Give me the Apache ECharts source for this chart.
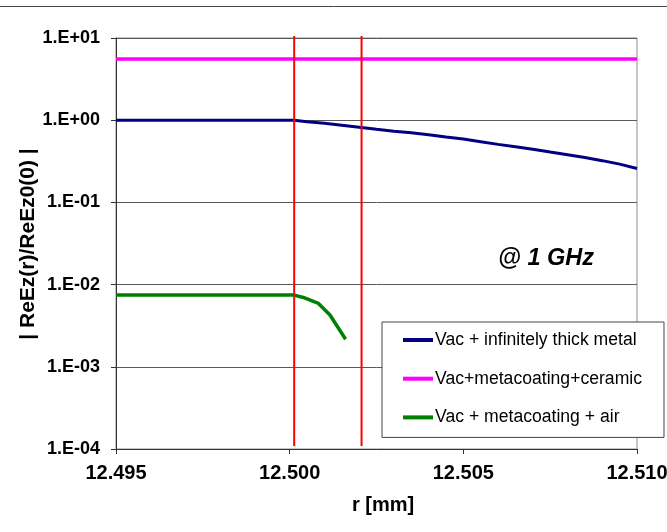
<!DOCTYPE html>
<html>
<head>
<meta charset="utf-8">
<script src="https://cdn.jsdelivr.net/npm/echarts@6/dist/echarts.min.js"></script>
<style>
html,body{margin:0;padding:0;background:#fff;}
#c{width:667px;height:532px;}
</style>
</head>
<body>
<div id="c"></div>
<script>
// ---- data ----
var seriesNames = ['Vac + infinitely thick metal', 'Vac+metacoating+ceramic', 'Vac + metacoating + air'];
var metalR = [12.495, 12.496, 12.497, 12.498, 12.499, 12.50013, 12.5005, 12.501, 12.5015, 12.502, 12.5025, 12.503, 12.5035, 12.504, 12.5045, 12.505, 12.5055, 12.506, 12.5065, 12.507, 12.5075, 12.508, 12.5085, 12.509, 12.5095, 12.510];
var metalV = [1.0, 1.0, 1.0, 1.0, 1.0, 1.0, 0.959, 0.92, 0.87, 0.822, 0.777, 0.735, 0.705, 0.666, 0.625, 0.591, 0.548, 0.508, 0.476, 0.444, 0.41, 0.381, 0.352, 0.322, 0.292, 0.259];
var ceramicR = [12.495, 12.510];
var ceramicV = [5.56, 5.56];
var airR = [12.495, 12.497, 12.499, 12.50013, 12.50039, 12.50083, 12.50116, 12.50161];
var airV = [0.00745, 0.00745, 0.00745, 0.00745, 0.00698, 0.0059, 0.00426, 0.00216];
var boundaryR = [12.50013, 12.50207];
var boundarySpan = [0.0001087, 10.57];
var yTickLabels = ['1.E-04', '1.E-03', '1.E-02', '1.E-01', '1.E+00', '1.E+01'];
var xTickLabels = ['12.495', '12.500', '12.505', '12.510'];

function pairs(xs, ys) { return xs.map(function (x, i) { return [x, ys[i]]; }); }

var FONT = '"Liberation Sans", Arial, sans-serif';
var chart = echarts.init(document.getElementById('c'), null, { renderer: 'canvas' });

var series = [
  { name: seriesNames[0], type: 'line', data: pairs(metalR, metalV), showSymbol: false, symbol: 'none',
    lineStyle: { color: '#000080', width: 3 }, itemStyle: { color: '#000080' }, z: 3 },
  { name: seriesNames[1], type: 'line', data: pairs(ceramicR, ceramicV), showSymbol: false, symbol: 'none',
    lineStyle: { color: '#FF00FF', width: 3.5 }, itemStyle: { color: '#FF00FF' }, z: 3 },
  { name: seriesNames[2], type: 'line', data: pairs(airR, airV), showSymbol: false, symbol: 'none',
    lineStyle: { color: '#008000', width: 3.5 }, itemStyle: { color: '#008000' }, z: 3 }
];
boundaryR.forEach(function (r, i) {
  series.push({ name: 'boundary' + i, type: 'line', data: [[r, boundarySpan[0]], [r, boundarySpan[1]]],
    showSymbol: false, symbol: 'none', clip: false, silent: true,
    lineStyle: { color: '#FF0000', width: 2 }, itemStyle: { color: '#FF0000' }, z: 4 });
});

chart.setOption({
  animation: false,
  backgroundColor: '#ffffff',
  grid: { left: 116, top: 38, right: 30, bottom: 83, containLabel: false, outerBoundsMode: 'none',
    show: true, borderColor: '#8c8c8c', borderWidth: 1, backgroundColor: 'transparent' },
  xAxis: {
    type: 'value', min: 12.495, max: 12.510, interval: 0.005,
    axisLine: { show: true, lineStyle: { color: '#333', width: 1 } },
    axisTick: { show: true, inside: false, length: 5, lineStyle: { color: '#333' } },
    splitLine: { show: false },
    axisLabel: { margin: 14, color: '#000', fontFamily: FONT, fontWeight: 'bold', fontSize: 20,
      formatter: function (v) { var i = Math.round((v - 12.495) / 0.005); return xTickLabels[i] || v.toFixed(3); } }
  },
  yAxis: {
    type: 'log', logBase: 10, min: 0.0001, max: 10,
    axisLine: { show: true, lineStyle: { color: '#333', width: 1 } },
    axisTick: { show: true, inside: false, length: 5, lineStyle: { color: '#333' } },
    splitLine: { show: true, lineStyle: { color: '#5a5a5a', width: 1 } },
    minorTick: { show: false },
    axisLabel: { margin: 16, color: '#000', fontFamily: FONT, fontWeight: 'bold', fontSize: 18,
      formatter: function (v) { var e = Math.round(Math.log(v) / Math.LN10); return yTickLabels[e + 4]; } }
  },
  legend: {
    orient: 'vertical', left: 382, top: 322,
    data: seriesNames,
    icon: 'rect', itemWidth: 30, itemHeight: 4, itemGap: 20.7,
    padding: [9, 22, 11, 21],
    borderColor: '#444', borderWidth: 1, backgroundColor: '#fff',
    textStyle: { fontFamily: FONT, fontSize: 17.6, color: '#000', padding: [0, 0, 0, -3] },
    selectedMode: false
  },
  graphic: [
    { type: 'line', shape: { x1: 0, y1: 6.5, x2: 667, y2: 6.5 }, style: { stroke: '#444', lineWidth: 1 }, silent: true },
    { type: 'text', x: 498, y: 259, style: { text: '@ 1 GHz', font: 'italic bold 23.5px ' + FONT, fill: '#000', align: 'left', verticalAlign: 'middle' } },
    { type: 'text', x: 383, y: 505, style: { text: 'r [mm]', font: 'bold 20px ' + FONT, fill: '#000', align: 'center', verticalAlign: 'middle' } },
    { type: 'text', x: 28, y: 244, rotation: Math.PI / 2, style: { text: '| ReEz(r)/ReEz0(0) |', font: 'bold 21px ' + FONT, fill: '#000', align: 'center', verticalAlign: 'middle' } }
  ],
  series: series
});
</script>
</body>
</html>
